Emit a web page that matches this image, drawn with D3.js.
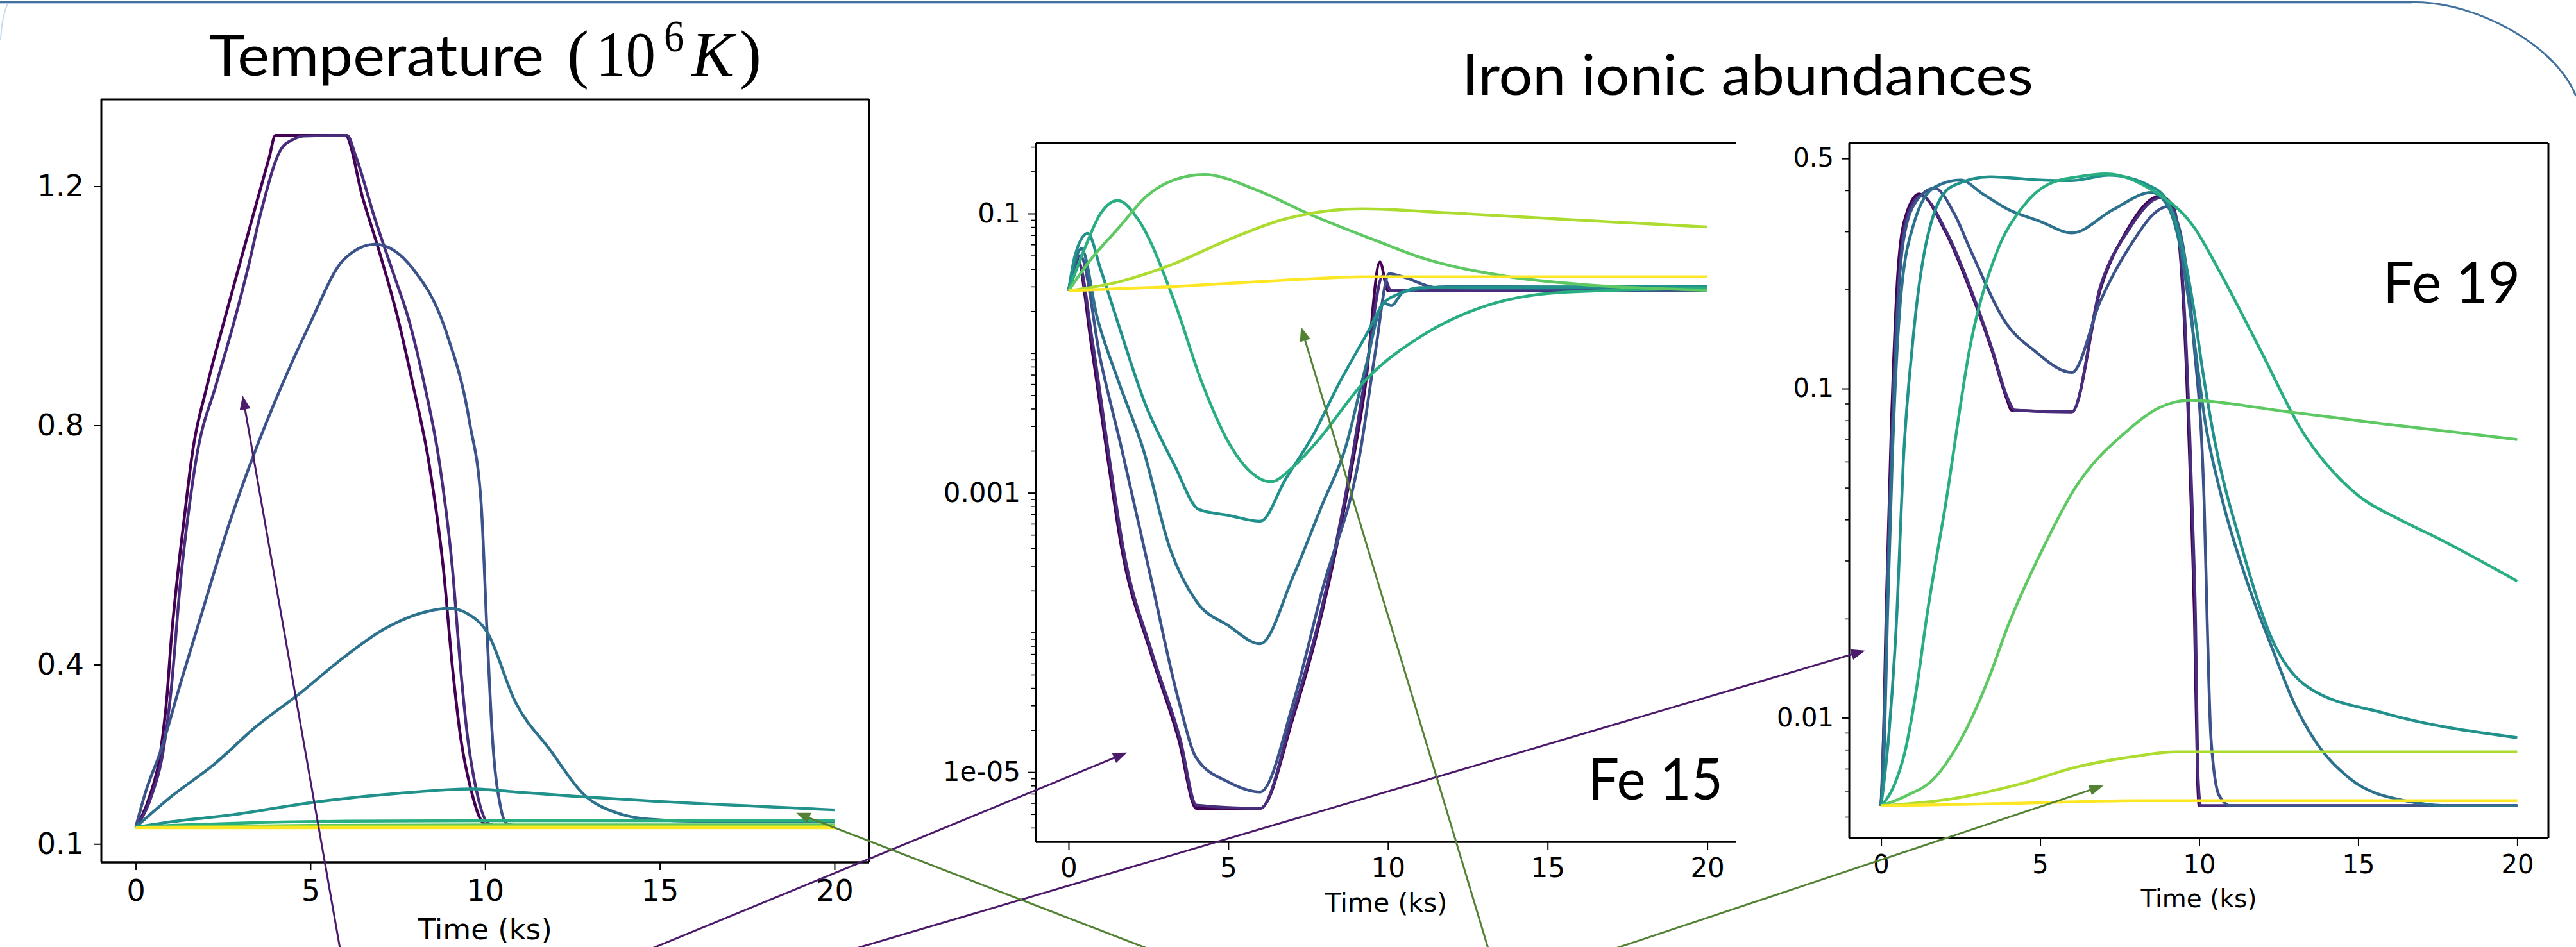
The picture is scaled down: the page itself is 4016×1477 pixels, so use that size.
<!DOCTYPE html>
<html><head><meta charset="utf-8">
<script src="https://cdn.jsdelivr.net/npm/d3@7"></script>
<style>html,body{margin:0;padding:0;background:#fff;} svg{display:block;}</style>
</head><body>
<svg id="c" width="4016" height="1477"></svg>
<script>
// ---------------- DATA ----------------
const timeTicks = [0, 5, 10, 15, 20];
const tempTicks = [0.1, 0.4, 0.8, 1.2];
const tempTickLabels = ["0.1", "0.4", "0.8", "1.2"];
const fe15Ticks = [0.1, 0.001, 1e-5];
const fe15TickLabels = ["0.1", "0.001", "1e-05"];
const fe19Ticks = [0.5, 0.1, 0.01];
const fe19TickLabels = ["0.5", "0.1", "0.01"];

// Temperature (10^6 K) vs time (ks), 9 runs
const tempRun0 = [[0,0.128],[0.4,0.18],[0.7,0.25],[0.9,0.35],[1.0,0.43],[1.2,0.55],[1.4,0.65],[1.6,0.745],[2.05,0.868],[2.5,0.968],[2.85,1.043],[3.33,1.145],[3.82,1.248],[4.0,1.285],[6.0,1.285],[6.5,1.18],[7.0,1.085],[7.5,0.98],[7.92,0.872],[8.4,0.735],[8.8,0.564],[9.07,0.393],[9.3,0.278],[9.6,0.19],[9.97,0.134],[10.3,0.13],[20,0.13]];
const tempRun1 = [[0,0.128],[0.45,0.18],[0.8,0.26],[1.0,0.35],[1.3,0.55],[1.5,0.65],[1.75,0.75],[2.3,0.868],[2.8,0.97],[3.2,1.06],[3.6,1.16],[4.15,1.261],[4.5,1.278],[4.8,1.284],[6.05,1.285],[6.3,1.25],[6.85,1.145],[7.4,1.05],[7.8,0.98],[8.25,0.872],[8.7,0.735],[9.06,0.564],[9.3,0.393],[9.5,0.278],[9.75,0.19],[10.1,0.134],[10.4,0.13],[20,0.13]];
const tempRun2 = [[0,0.128],[0.3,0.19],[0.7,0.253],[1.32,0.376],[1.96,0.499],[2.6,0.622],[3.34,0.745],[4.19,0.868],[4.97,0.968],[5.95,1.077],[6.85,1.103],[7.92,1.063],[8.9,0.954],[9.56,0.804],[9.89,0.667],[10.05,0.462],[10.21,0.278],[10.45,0.16],[10.62,0.134],[11,0.13],[20,0.13]];
const tempRun3 = [[0,0.128],[1.01,0.179],[2.24,0.233],[3.46,0.297],[4.68,0.351],[5.91,0.41],[7.13,0.46],[8.36,0.489],[8.98,0.494],[9.5,0.485],[10.05,0.455],[10.87,0.337],[11.85,0.258],[12.84,0.182],[13.82,0.151],[14.8,0.141],[16,0.138],[20,0.137]];
const tempRun4 = [[0,0.128],[1,0.137],[2.67,0.148],[5.13,0.17],[7.59,0.185],[9.64,0.192],[10.87,0.187],[12.51,0.18],[14.97,0.171],[17.43,0.164],[20,0.157]];
const tempRun5 = [[0,0.128],[1,0.131],[3,0.135],[6,0.138],[10,0.139],[20,0.139]];
const tempRun6 = [[0,0.128],[5,0.131],[10,0.132],[20,0.132]];
const tempRun7 = [[0,0.128],[10,0.13],[20,0.13]];
const tempRun8 = [[0,0.127],[20,0.127]];

// Fe 15 ionic fraction vs time (ks)
const fe15Run0 = [[0,0.028],[0.28,0.047],[0.7,0.012],[1.22,1.8e-3],[1.67,3.9e-4],[2.56,7.3e-5],[3.45,1.7e-5],[4.0,5.5e-6],[6.0,5.5e-6],[7.04,2.5e-5],[7.94,1.4e-4],[8.84,1.4e-3],[9.3,6e-3],[9.75,0.045],[10.0,0.028],[20,0.028]];
const fe15Run1 = [[0,0.028],[0.3,0.045],[0.75,0.012],[1.27,1.8e-3],[1.72,3.9e-4],[2.6,7.3e-5],[3.5,1.7e-5],[4.0,5.8e-6],[6.0,5.5e-6],[7.0,2.5e-5],[7.9,1.4e-4],[8.8,1.4e-3],[9.3,7e-3],[9.85,0.036],[10.1,0.028],[20,0.028]];
const fe15Run2 = [[0,0.028],[0.36,0.05],[1.0,8.9e-3],[1.66,2.07e-3],[2.56,2.55e-4],[3.46,3.16e-5],[4.0,1.26e-5],[5.0,8.5e-6],[6.0,7.2e-6],[7.04,3.16e-5],[7.94,2.0e-4],[9.15,2.07e-3],[9.6,0.01],[10.04,0.037],[10.5,0.035],[11.5,0.0295],[20,0.028]];
const fe15Run3 = [[0,0.028],[0.4,0.056],[0.9,0.0178],[1.57,6.2e-3],[2.33,2.07e-3],[3.19,3.9e-4],[4.0,1.67e-4],[5.0,1.12e-4],[6.0,8.3e-5],[7.04,2.55e-4],[7.94,8.2e-4],[8.66,2.07e-3],[9.3,7.9e-3],[9.87,0.0229],[10.1,0.0219],[10.5,0.0275],[12,0.030],[20,0.0295]];
const fe15Run4 = [[0,0.028],[0.2,0.05],[0.6,0.072],[1.0,0.04],[1.57,0.0158],[2.44,4.1e-3],[3.05,2.07e-3],[3.3,1.6e-3],[4.08,7.6e-4],[5.0,6.9e-4],[6.0,6.25e-4],[6.8,1.26e-3],[7.62,2.5e-3],[8.49,6.2e-3],[9.35,0.0139],[9.87,0.0229],[10.3,0.0263],[11,0.0295],[20,0.030]];
const fe15Run5 = [[0,0.028],[0.5,0.056],[1.0,0.1],[1.54,0.124],[2.2,0.089],[3.3,0.0238],[4.17,6.2e-3],[5.03,2.25e-3],[5.7,1.41e-3],[6.33,1.2e-3],[7.0,1.51e-3],[7.76,2.3e-3],[9.35,6.6e-3],[11.08,0.0134],[12.8,0.0208],[15.4,0.0272],[20,0.0291]];
const fe15Run6 = [[0,0.028],[0.7,0.047],[1.57,0.079],[2.44,0.133],[3.3,0.174],[4.25,0.19],[5.9,0.147],[7.45,0.101],[9.7,0.063],[11.08,0.048],[13.67,0.0356],[16.27,0.0308],[20,0.0282]];
const fe15Run7 = [[0,0.028],[1.57,0.0324],[3.3,0.0437],[5.03,0.0653],[6.76,0.0912],[9.18,0.108],[11.95,0.101],[15.4,0.0912],[20,0.08]];
const fe15Run8 = [[0,0.028],[3.3,0.030],[6.76,0.0333],[9.35,0.0352],[20,0.0352]];

// Fe 19 ionic fraction vs time (ks)
const fe19Run0 = [[0,0.0054],[0.05,0.007],[0.1,0.011],[0.16,0.021],[0.32,0.075],[0.55,0.24],[0.8,0.34],[1.2,0.39],[2.02,0.30],[2.83,0.196],[3.48,0.131],[3.97,0.092],[4.1,0.086],[6.0,0.085],[6.9,0.201],[7.71,0.30],[8.77,0.384],[9.18,0.357],[9.5,0.185],[9.75,0.044],[9.85,0.021],[9.95,0.0065],[10.0,0.0054],[20,0.0054]];
const fe19Run1 = [[0,0.0054],[0.06,0.007],[0.12,0.011],[0.18,0.021],[0.35,0.075],[0.6,0.24],[0.85,0.34],[1.25,0.385],[2.05,0.30],[2.86,0.196],[3.5,0.131],[3.97,0.094],[4.2,0.086],[6.0,0.085],[6.9,0.205],[7.75,0.30],[8.8,0.38],[9.2,0.35],[9.52,0.185],[9.78,0.044],[9.88,0.021],[9.97,0.0065],[10.05,0.0054],[20,0.0054]];
const fe19Run2 = [[0,0.0054],[0.1,0.01],[0.2,0.025],[0.4,0.1],[0.7,0.28],[1.1,0.37],[1.69,0.406],[2.3,0.34],[2.83,0.261],[3.97,0.156],[4.79,0.131],[6.0,0.112],[6.9,0.185],[7.71,0.26],[9.02,0.357],[9.4,0.3],[9.83,0.139],[10.16,0.044],[10.25,0.02],[10.37,0.0087],[10.63,0.0058],[11,0.0054],[20,0.0054]];
const fe19Run3 = [[0,0.0054],[0.1,0.008],[0.2,0.02],[0.35,0.06],[0.6,0.18],[1.0,0.31],[1.7,0.41],[2.5,0.43],[3.2,0.39],[3.95,0.352],[5.0,0.322],[6.0,0.297],[7.3,0.35],[8.5,0.394],[9.0,0.36],[9.4,0.27],[9.8,0.15],[10.2,0.078],[10.7,0.047],[11.5,0.026],[12.27,0.0165],[13.0,0.011],[13.58,0.0087],[14.77,0.0065],[16.46,0.0056],[18,0.0054],[20,0.0054]];
const fe19Run4 = [[0,0.0054],[0.25,0.009],[0.5,0.021],[0.7,0.06],[1.0,0.14],[1.5,0.3],[2.2,0.41],[3.43,0.44],[5.0,0.43],[5.97,0.428],[7.16,0.445],[8.51,0.41],[9.0,0.37],[9.35,0.30],[9.83,0.175],[10.1,0.115],[10.48,0.07],[11.3,0.034],[12.27,0.0175],[13.41,0.0124],[15.86,0.0103],[20,0.0087]];
const fe19Run5 = [[0,0.0054],[0.4,0.0062],[0.74,0.0078],[1.1,0.012],[1.46,0.021],[2.02,0.044],[2.83,0.139],[3.64,0.26],[4.46,0.357],[5.27,0.418],[6.2,0.44],[7.07,0.449],[8.53,0.40],[9.83,0.31],[10.65,0.226],[11.79,0.139],[13.41,0.07],[14.2,0.056],[15.04,0.047],[16.3,0.04],[17.48,0.0352],[20,0.026]];
const fe19Run6 = [[0,0.0054],[0.8,0.0058],[1.64,0.0065],[2.54,0.0087],[3.44,0.0136],[3.97,0.0188],[5.11,0.033],[6.09,0.0497],[7.71,0.074],[8.7,0.087],[9.67,0.092],[12.6,0.0855],[15.86,0.078],[20,0.07]];
const fe19Run7 = [[0,0.0054],[2.54,0.00574],[4.34,0.00628],[6.14,0.00708],[7.94,0.00762],[9.29,0.00787],[20,0.00787]];
const fe19Run8 = [[0,0.0054],[4.34,0.0055],[7.94,0.0056],[10,0.0056],[20,0.0056]];

const tempSeries = [tempRun0,tempRun1,tempRun2,tempRun3,tempRun4,tempRun5,tempRun6,tempRun7,tempRun8];
const fe15Series = [fe15Run0,fe15Run1,fe15Run2,fe15Run3,fe15Run4,fe15Run5,fe15Run6,fe15Run7,fe15Run8];
const fe19Series = [fe19Run0,fe19Run1,fe19Run2,fe19Run3,fe19Run4,fe19Run5,fe19Run6,fe19Run7,fe19Run8];

// annotation arrows: tip in data coordinates of a panel, tail at slide bottom
const arrowTips = [
  {panel:"temp", t:3.06, v:0.85,    kind:"purple"},
  {panel:"fe15", t:1.83, v:1.38e-5, kind:"purple"},
  {panel:"fe19", t:-0.5, v:0.016,   kind:"purple"},
  {panel:"temp", t:18.9, v:0.152,   kind:"green"},
  {panel:"fe15", t:7.28, v:0.0154,  kind:"green"},
  {panel:"fe19", t:6.99, v:0.00622, kind:"green"}
];

// ---------------- LAYOUT / STYLE ----------------
const W = 4016, H = 1477;
const arrowTailX = [530, 1017, 1335, 1788, 2320, 2519];
const arrowColor = {purple:"#4b1a6a", green:"#548235"};
const colors = d3.range(9).map(i => d3.interpolateViridis(i / 8));

const svg = d3.select("#c");
svg.append("rect").attr("width", W).attr("height", H).attr("fill", "#fff");

// slide decoration
svg.append("path").attr("d", "M0,3.5 L3766,3.5 C3860,3.5 3985,70 4016,150")
  .attr("fill", "none").attr("stroke", "#41719c").attr("stroke-width", 3);
svg.append("path").attr("d", "M0,6 L3760,6").attr("stroke", "#a9c4e2").attr("stroke-width", 1.5);
svg.append("path").attr("d", "M12,6 Q3,25 1,62").attr("fill", "none").attr("stroke", "#c9d8ec").attr("stroke-width", 2);

const panels = [
  {key:"temp", xRange:[157.1,1355.4], frame:{l:158,t:155,r:1354.5,b:1345}, log:false,
   yDom:[0.0692,1.3453], ticks:tempTicks, labels:tempTickLabels, fs:46, padX:15, padY:15,
   xlabelY:1465, rightSpine:true, series:tempSeries},
  {key:"fe15", xRange:[1616.2,2711.4], frame:{l:1615,t:223,r:2707,b:1313}, log:true,
   yDom:[3.166e-6,0.3199], ticks:fe15Ticks, labels:fe15TickLabels, fs:42, padX:13, padY:12,
   xlabelY:1422, rightSpine:false, series:fe15Series},
  {key:"fe19", xRange:[2883,3974], frame:{l:2883,t:223,r:3973,b:1307}, log:true,
   yDom:[0.004312,0.5572], ticks:fe19Ticks, labels:fe19TickLabels, fs:40, padX:14.5, padY:12,
   xlabelY:1415, rightSpine:true, series:fe19Series}
];

const scales = {};
const font = "'DejaVu Sans', sans-serif";

panels.forEach(p => {
  const f = p.frame;
  const x = d3.scaleLinear().domain([-1, 21]).range(p.xRange);
  const y = (p.log ? d3.scaleLog() : d3.scaleLinear()).domain(p.yDom).range([f.b, f.t]);
  scales[p.key] = {x, y};
  const g = svg.append("g");

  const line = d3.line().x(d => x(d[0])).y(d => y(d[1])).curve(d3.curveMonotoneX);
  p.series.forEach((s, i) => {
    g.append("path").datum(s).attr("d", line)
      .attr("fill", "none").attr("stroke", colors[i]).attr("stroke-width", 4.5)
      .attr("stroke-linejoin", "round").attr("stroke-linecap", "butt");
  });

  // x axis
  const xa = g.append("g").attr("transform", `translate(0,${f.b})`)
    .call(d3.axisBottom(x).tickValues(timeTicks).tickSize(12).tickPadding(p.padX).tickFormat(d3.format("d")));
  xa.select(".domain").remove();
  xa.selectAll("line").attr("stroke", "#000").attr("stroke-width", 2);
  xa.selectAll("text").attr("font-family", font).attr("font-size", p.fs).attr("fill", "#000");
  xa.attr("font-size", null).attr("font-family", null);

  // y axis
  const ya = g.append("g").attr("transform", `translate(${f.l},0)`)
    .call(d3.axisLeft(y).tickValues(p.ticks).tickSize(12).tickPadding(p.padY).tickFormat((d, i) => p.labels[i]));
  ya.select(".domain").remove();
  ya.selectAll("line").attr("stroke", "#000").attr("stroke-width", 2);
  ya.selectAll("text").attr("font-family", font).attr("font-size", p.fs).attr("fill", "#000");
  ya.attr("font-size", null).attr("font-family", null);

  if (p.log) {
    const minors = [];
    for (let k = -7; k <= 0; k++) for (let j = 1; j <= 9; j++) {
      const v = +(j * Math.pow(10, k)).toPrecision(3);
      if (v >= p.yDom[0] && v <= p.yDom[1] && !p.ticks.some(t => Math.abs(t - v) / v < 1e-6)) minors.push(v);
    }
    const ma = g.append("g").attr("transform", `translate(${f.l},0)`)
      .call(d3.axisLeft(y).tickValues(minors).tickSize(7).tickFormat(() => ""));
    ma.select(".domain").remove();
    ma.selectAll("line").attr("stroke", "#000").attr("stroke-width", 1.6);
  }

  // spines
  const sp = g.append("g").attr("stroke", "#000").attr("stroke-width", 3).attr("fill", "none");
  sp.append("line").attr("x1", f.l).attr("x2", f.r).attr("y1", f.t).attr("y2", f.t);
  sp.append("line").attr("x1", f.l).attr("x2", f.r).attr("y1", f.b).attr("y2", f.b).attr("stroke-width", 3.5);
  sp.append("line").attr("x1", f.l).attr("x2", f.l).attr("y1", f.t).attr("y2", f.b);
  if (p.rightSpine) sp.append("line").attr("x1", f.r).attr("x2", f.r).attr("y1", f.t).attr("y2", f.b);

  // x label
  g.append("text").attr("x", (f.l + f.r) / 2).attr("y", p.xlabelY).attr("text-anchor", "middle")
    .attr("font-family", font).attr("font-size", p.fs - 1).attr("fill", "#000").text("Time (ks)");
});

// titles
const sansT = "Lato, 'Open Sans', sans-serif";
const serifT = "'Liberation Serif', 'DejaVu Serif', serif";
svg.append("text").attr("x", 326).attr("y", 118).attr("font-family", sansT).attr("font-size", 90)
  .attr("textLength", 522).attr("lengthAdjust", "spacingAndGlyphs").text("Temperature");
svg.append("text").attr("x", 884).attr("y", 118).attr("font-family", serifT).attr("font-size", 102).text("(");
svg.append("text").attr("x", 929).attr("y", 118).attr("font-family", serifT).attr("font-size", 100)
  .attr("textLength", 93).attr("lengthAdjust", "spacingAndGlyphs").text("10");
svg.append("text").attr("x", 1035).attr("y", 80).attr("font-family", serifT).attr("font-size", 70)
  .attr("textLength", 32).attr("lengthAdjust", "spacingAndGlyphs").text("6");
svg.append("text").attr("x", 1078).attr("y", 118).attr("font-family", serifT).attr("font-style", "italic").attr("font-size", 100)
  .attr("textLength", 66).attr("lengthAdjust", "spacingAndGlyphs").text("K");
svg.append("text").attr("x", 1153).attr("y", 118).attr("font-family", serifT).attr("font-size", 102).text(")");

svg.append("text").attr("x", 2279).attr("y", 148).attr("font-family", sansT).attr("font-size", 88)
  .attr("textLength", 891).attr("lengthAdjust", "spacingAndGlyphs").text("Iron ionic abundances");
svg.append("text").attr("x", 2476).attr("y", 1247).attr("font-family", sansT).attr("font-size", 89)
  .attr("textLength", 210).attr("lengthAdjust", "spacingAndGlyphs").text("Fe 15");
svg.append("text").attr("x", 3715).attr("y", 472).attr("font-family", sansT).attr("font-size", 89)
  .attr("textLength", 214).attr("lengthAdjust", "spacingAndGlyphs").text("Fe 19");

// arrows
const ag = svg.append("g");
arrowTips.forEach((a, i) => {
  const s = scales[a.panel];
  const x2 = s.x(a.t), y2 = s.y(a.v);
  const x1 = arrowTailX[i], y1 = H + 2;
  const dx = x2 - x1, dy = y2 - y1, L = Math.hypot(dx, dy), ux = dx / L, uy = dy / L;
  const hl = 22, hw = 8.5;
  const bx = x2 - ux * hl, by = y2 - uy * hl;
  const c = arrowColor[a.kind];
  ag.append("line").attr("x1", x1).attr("y1", y1).attr("x2", bx + ux * 2).attr("y2", by + uy * 2)
    .attr("stroke", c).attr("stroke-width", 3);
  ag.append("path").attr("d", `M${x2},${y2}L${bx - uy * hw},${by + ux * hw}L${bx + uy * hw},${by - ux * hw}Z`)
    .attr("fill", c);
});
</script>
</body></html>
